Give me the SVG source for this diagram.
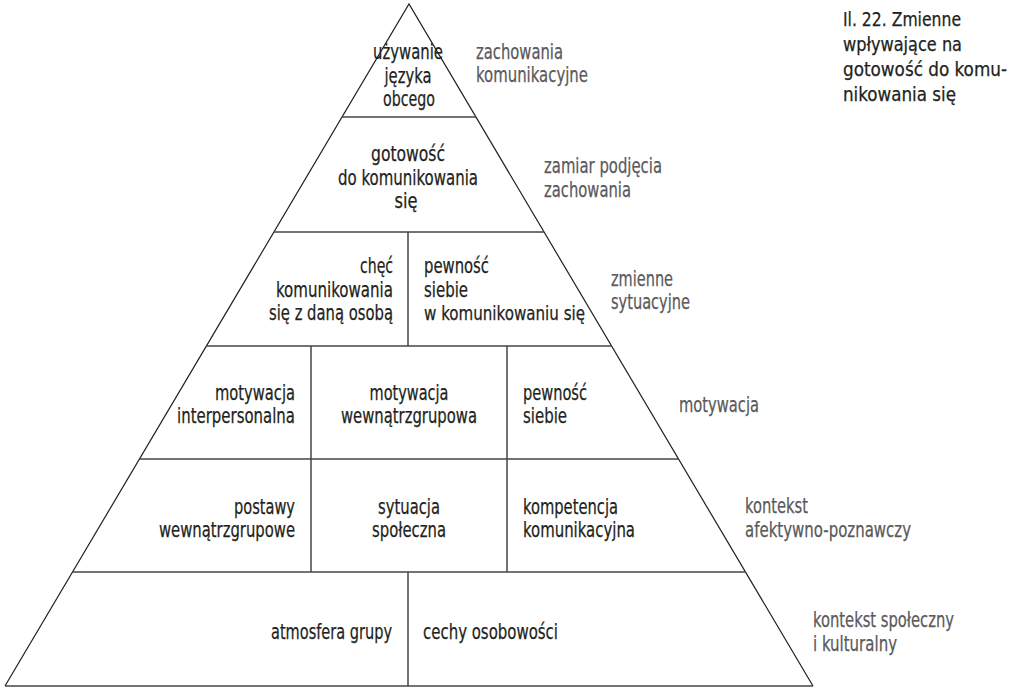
<svg xmlns="http://www.w3.org/2000/svg" width="1016" height="688" viewBox="0 0 1016 688">
<style>
.t{font-family:"DejaVu Sans Condensed","DejaVu Sans","Liberation Sans",sans-serif;font-stretch:condensed;font-size:21.5px;fill:#231f20;stroke:#231f20;stroke-width:0.25}
.g{fill:#5a5a5c;stroke:#5a5a5c}
.ttl{font-size:20px}
.sm{font-size:20px}
.m{text-anchor:middle}
.e{text-anchor:end}
.side{stroke:#231f20;stroke-width:1.2;fill:none}
.h{stroke:#444;stroke-width:1.6}
.v{stroke:#444;stroke-width:1.5}
</style>
<rect width="1016" height="688" fill="#fff"/>
<g id="frame">
<polyline class="side" points="5,686 409,4 813,686"/>
<line class="h" x1="342" y1="117" x2="476" y2="117"/>
<line class="h" x1="274" y1="232" x2="544" y2="232"/>
<line class="h" x1="206" y1="346" x2="612" y2="346"/>
<line class="h" x1="139" y1="459" x2="679" y2="459"/>
<line class="h" x1="72" y1="572" x2="746" y2="572"/>
<line class="h" x1="5" y1="686" x2="813" y2="686"/>
<line class="v" x1="408" y1="232" x2="408" y2="346"/>
<line class="v" x1="311" y1="346" x2="311" y2="572"/>
<line class="v" x1="507" y1="346" x2="507" y2="572"/>
<line class="v" x1="408" y1="572" x2="408" y2="686"/>
</g>
<g id="title">
<text class="t ttl" x="843" y="26" textLength="118" lengthAdjust="spacingAndGlyphs">Il. 22. Zmienne</text>
<text class="t ttl" x="843" y="51" textLength="119" lengthAdjust="spacingAndGlyphs">wpływające na</text>
<text class="t ttl" x="843" y="76" textLength="164" lengthAdjust="spacingAndGlyphs">gotowość do komu-</text>
<text class="t ttl" x="843" y="101" textLength="113" lengthAdjust="spacingAndGlyphs">nikowania się</text>
</g>
<g id="n-uzywanie">
<text class="t m" x="408" y="59" textLength="70" lengthAdjust="spacingAndGlyphs">używanie</text>
<text class="t m" x="408" y="83" textLength="47" lengthAdjust="spacingAndGlyphs">języka</text>
<text class="t m" x="409" y="106" textLength="52" lengthAdjust="spacingAndGlyphs">obcego</text>
</g>
<g id="n-gotowosc">
<text class="t m" x="408" y="161" textLength="74" lengthAdjust="spacingAndGlyphs">gotowość</text>
<text class="t m" x="408" y="185" textLength="140" lengthAdjust="spacingAndGlyphs">do komunikowania</text>
<text class="t m" x="406" y="208" textLength="23" lengthAdjust="spacingAndGlyphs">się</text>
</g>
<g id="n-chec">
<text class="t e" x="393" y="273" textLength="33" lengthAdjust="spacingAndGlyphs">chęć</text>
<text class="t e" x="393" y="297" textLength="117" lengthAdjust="spacingAndGlyphs">komunikowania</text>
<text class="t e" x="393" y="320" textLength="124" lengthAdjust="spacingAndGlyphs">się z daną osobą</text>
</g>
<g id="n-pewnosc-kom">
<text class="t" x="424" y="273" textLength="65" lengthAdjust="spacingAndGlyphs">pewność</text>
<text class="t" x="424" y="297" textLength="44" lengthAdjust="spacingAndGlyphs">siebie</text>
<text class="t sm" x="424" y="320" textLength="161" lengthAdjust="spacingAndGlyphs">w komunikowaniu się</text>
</g>
<g id="n-mot-inter">
<text class="t e" x="295" y="400" textLength="80" lengthAdjust="spacingAndGlyphs">motywacja</text>
<text class="t e" x="295" y="423" textLength="118" lengthAdjust="spacingAndGlyphs">interpersonalna</text>
</g>
<g id="n-mot-wewn">
<text class="t m" x="409" y="400" textLength="79" lengthAdjust="spacingAndGlyphs">motywacja</text>
<text class="t m" x="409" y="423" textLength="136" lengthAdjust="spacingAndGlyphs">wewnątrzgrupowa</text>
</g>
<g id="n-pewnosc">
<text class="t" x="523" y="400" textLength="64" lengthAdjust="spacingAndGlyphs">pewność</text>
<text class="t" x="523" y="423" textLength="44" lengthAdjust="spacingAndGlyphs">siebie</text>
</g>
<g id="n-postawy">
<text class="t e" x="295" y="514" textLength="61" lengthAdjust="spacingAndGlyphs">postawy</text>
<text class="t e" x="295" y="537" textLength="136" lengthAdjust="spacingAndGlyphs">wewnątrzgrupowe</text>
</g>
<g id="n-sytuacja">
<text class="t m" x="409" y="514" textLength="62" lengthAdjust="spacingAndGlyphs">sytuacja</text>
<text class="t m" x="409" y="537" textLength="74" lengthAdjust="spacingAndGlyphs">społeczna</text>
</g>
<g id="n-kompetencja">
<text class="t" x="523" y="514" textLength="95" lengthAdjust="spacingAndGlyphs">kompetencja</text>
<text class="t" x="523" y="537" textLength="112" lengthAdjust="spacingAndGlyphs">komunikacyjna</text>
</g>
<g id="n-atmosfera">
<text class="t e" x="392" y="639" textLength="121" lengthAdjust="spacingAndGlyphs">atmosfera grupy</text>
</g>
<g id="n-cechy">
<text class="t" x="423" y="639" textLength="135" lengthAdjust="spacingAndGlyphs">cechy osobowości</text>
</g>
<g id="labels">
<text class="t g" x="476" y="59" textLength="87" lengthAdjust="spacingAndGlyphs">zachowania</text>
<text class="t g" x="476" y="82" textLength="112" lengthAdjust="spacingAndGlyphs">komunikacyjne</text>
<text class="t g" x="544" y="173" textLength="118" lengthAdjust="spacingAndGlyphs">zamiar podjęcia</text>
<text class="t g" x="544" y="197" textLength="87" lengthAdjust="spacingAndGlyphs">zachowania</text>
<text class="t g" x="611" y="286" textLength="62" lengthAdjust="spacingAndGlyphs">zmienne</text>
<text class="t g" x="611" y="309" textLength="79" lengthAdjust="spacingAndGlyphs">sytuacyjne</text>
<text class="t g" x="679" y="412" textLength="80" lengthAdjust="spacingAndGlyphs">motywacja</text>
<text class="t g" x="745" y="513" textLength="63" lengthAdjust="spacingAndGlyphs">kontekst</text>
<text class="t g" x="745" y="537" textLength="166" lengthAdjust="spacingAndGlyphs">afektywno-poznawczy</text>
<text class="t g" x="813" y="627" textLength="141" lengthAdjust="spacingAndGlyphs">kontekst społeczny</text>
<text class="t g" x="813" y="651" textLength="84" lengthAdjust="spacingAndGlyphs">i kulturalny</text>
</g>
</svg>
